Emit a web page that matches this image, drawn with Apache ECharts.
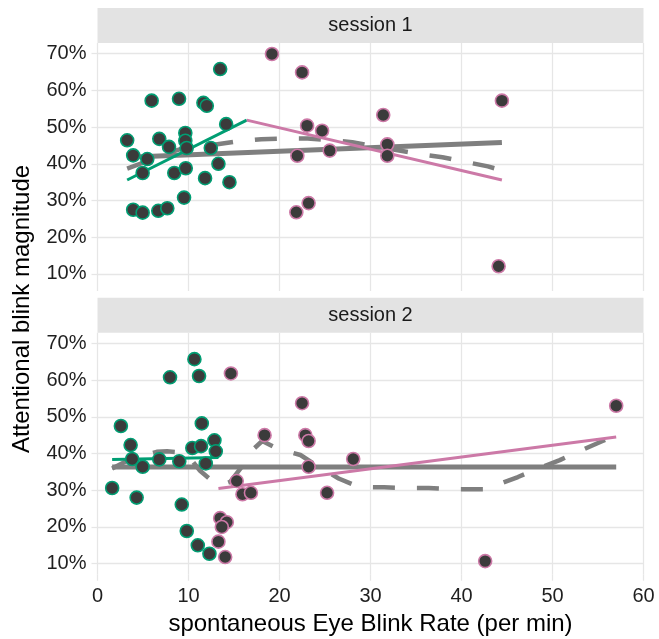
<!DOCTYPE html>
<html>
<head>
<meta charset="utf-8">
<script src="https://cdn.jsdelivr.net/npm/echarts@6/dist/echarts.min.js"></script>
<style>
html,body{margin:0;padding:0;background:#fff;}
#chart{width:659px;height:639px;}
</style>
</head>
<body>
<div id="chart"></div>
<script>
// ---------- data ----------
const xTicks = [0, 10, 20, 30, 40, 50, 60];
const yTicks = [10, 20, 30, 40, 50, 60, 70];
const panelTitles = ['session 1', 'session 2'];
const xTitle = 'spontaneous Eye Blink Rate (per min)';
const yTitle = 'Attentional blink magnitude';

// session 1 – low EBR group (green)
const s1LowX = [3.26, 3.92, 5.47, 6.79, 7.86, 9.65, 9.65, 9.8, 12.45, 14.14, 4.96, 8.44, 9.7, 11.82, 13.29, 14.5, 9.51, 3.92, 4.96, 6.68, 7.67, 5.95, 8.96, 11.64, 12.01, 13.48];
const s1LowY = [46.4, 42.3, 41.3, 46.8, 44.6, 48.4, 46.3, 44.3, 44.3, 50.8, 37.5, 37.5, 38.8, 36.1, 40.0, 35.0, 30.8, 27.5, 26.7, 27.2, 27.9, 57.2, 57.7, 56.6, 55.8, 65.8];
// session 1 – high EBR group (pink)
const s1HighX = [22.48, 23.03, 24.68, 21.96, 25.52, 31.4, 31.85, 31.85, 44.44, 44.08, 21.85, 23.2, 19.17];
const s1HighY = [64.9, 50.4, 49.0, 42.2, 43.6, 53.3, 45.3, 42.2, 57.2, 12.1, 26.8, 29.3, 69.9];
// session 1 fits
const s1LowFitX = [3.26, 16.4];
const s1LowFitY = [35.6, 51.9];
const s1HighFitX = [16.4, 44.44];
const s1HighFitY = [51.9, 35.6];
const s1AllFitX = [3.26, 44.44];
const s1AllFitY = [41.8, 45.8];
const s1LoessX = [3.26, 5.43, 7.97, 10.17, 12.6, 15.35, 18.0, 20.4, 23.1, 25.4, 28.0, 30.3, 33.0, 35.3, 37.9, 40.3, 42.9, 44.44];
const s1LoessY = [38.7, 40.7, 43.1, 44.8, 45.1, 46.1, 46.7, 46.9, 46.9, 46.5, 45.9, 44.8, 43.7, 42.7, 41.8, 40.6, 39.3, 38.2];

// session 2 – low EBR group (green)
const s2LowX = [10.65, 7.97, 11.16, 2.57, 11.46, 3.64, 12.85, 10.42, 11.38, 13.0, 3.81, 4.96, 6.79, 8.99, 11.9, 1.61, 4.3, 9.26, 9.81, 11.02, 12.3];
const s2LowY = [65.7, 60.75, 61.1, 47.5, 48.2, 42.3, 43.6, 41.5, 42.0, 40.6, 38.5, 36.4, 38.4, 37.9, 37.3, 30.6, 28.0, 26.1, 18.9, 15.0, 12.7];
// session 2 – high EBR group (pink)
const s2HighX = [15.3, 15.93, 16.86, 13.48, 14.21, 13.66, 13.29, 14.03, 14.66, 18.36, 22.48, 22.84, 23.2, 23.2, 25.23, 28.1, 42.6, 57.0];
const s2HighY = [32.5, 28.9, 29.3, 22.4, 21.3, 20.0, 16.0, 11.8, 61.8, 45.0, 53.7, 45.0, 43.4, 36.4, 29.3, 38.5, 10.7, 53.0];
// session 2 fits
const s2LowFitX = [1.61, 13.29];
const s2LowFitY = [38.4, 38.9];
const s2HighFitX = [13.29, 57.0];
const s2HighFitY = [30.5, 44.5];
const s2AllFitX = [1.61, 57.0];
const s2AllFitY = [36.3, 36.3];
const s2LoessX = [1.61, 3.75, 6.5, 7.64, 8.7, 10.17, 11.27, 12.6, 13.6, 14.58, 15.87, 17.0, 18.1, 19.7, 22.3, 24.3, 26.5, 28.7, 31.5, 33.9, 36.4, 38.8, 41.4, 42.7, 43.8, 46.2, 48.6, 50.8, 53.2, 55.5, 57.0];
const s2LoessY = [35.9, 38.65, 40.45, 40.6, 40.4, 38.8, 35.3, 32.5, 31.4, 32.3, 36.4, 40.9, 43.4, 41.4, 39.6, 36.4, 33.2, 30.9, 30.8, 30.6, 30.6, 30.3, 30.3, 30.3, 31.4, 33.6, 36.1, 38.2, 40.9, 43.4, 45.0];

// ---------- style ----------
const GREEN = '#009E73', PINK = '#CC79A7', GREY = '#7F7F7F';
const GRID_C = '#E6E6E6';
const X_MIN = 0, X_MAX = 60, Y_MIN = 7.0, Y_MAX = 72.9;
const PANEL_LEFT = 97.5, PANEL_W = 546;
const PANEL_TOPS = [43, 332.7], PANEL_H = 242, STRIP_H = 35;

const zip = (xs, ys) => xs.map((x, i) => [x, ys[i]]);

const grids = PANEL_TOPS.map(t => ({left: PANEL_LEFT, top: t, width: PANEL_W, height: PANEL_H}));

const xAxes = [0, 1].map(i => ({
  type: 'value', gridIndex: i, min: X_MIN, max: X_MAX, interval: 10,
  axisLine: {show: false},
  axisTick: {show: true, length: 6, lineStyle: {color: GRID_C, width: 1.3}},
  axisLabel: {show: i === 1, fontSize: 20, color: '#1F1F1F', margin: 12, fontFamily: 'Liberation Sans'},
  splitLine: {show: true, lineStyle: {color: GRID_C, width: 1.3}}
}));
const yAxes = [0, 1].map(i => ({
  type: 'value', gridIndex: i, min: Y_MIN, max: Y_MAX,
  axisLine: {show: false},
  axisTick: {show: true, length: 6, customValues: yTicks, lineStyle: {color: GRID_C, width: 1.3}},
  axisLabel: {show: true, customValues: yTicks, fontSize: 20, color: '#1F1F1F', margin: 11,
    fontFamily: 'Liberation Sans', formatter: v => v + '%'},
  splitLine: {show: true, lineStyle: {color: GRID_C, width: 1.3}}
}));

function lineSeries(idx, xs, ys, color, width, dash, z) {
  return {type: 'line', xAxisIndex: idx, yAxisIndex: idx, data: zip(xs, ys),
    symbol: 'none', silent: true, z: z,
    lineStyle: {color: color, width: width, type: dash || 'solid', cap: 'butt'}};
}
function pointSeries(idx, xs, ys, border) {
  return {type: 'scatter', xAxisIndex: idx, yAxisIndex: idx, data: zip(xs, ys),
    symbol: 'circle', symbolSize: 13, z: 5,
    itemStyle: {color: '#3B3B3B', borderColor: border, borderWidth: 1.6, opacity: 1}};
}

const series = [
  pointSeries(0, s1LowX, s1LowY, GREEN),
  pointSeries(0, s1HighX, s1HighY, PINK),
  lineSeries(0, s1AllFitX, s1AllFitY, GREY, 5, null, 3),
  lineSeries(0, s1LoessX, s1LoessY, GREY, 4.5, [22, 22], 3),
  lineSeries(0, s1LowFitX, s1LowFitY, GREEN, 3, null, 4),
  lineSeries(0, s1HighFitX, s1HighFitY, PINK, 3, null, 4),
  pointSeries(1, s2LowX, s2LowY, GREEN),
  pointSeries(1, s2HighX, s2HighY, PINK),
  lineSeries(1, s2AllFitX, s2AllFitY, GREY, 5, null, 3),
  lineSeries(1, s2LoessX, s2LoessY, GREY, 4.5, [22, 22], 3),
  lineSeries(1, s2LowFitX, s2LowFitY, GREEN, 3, null, 4),
  lineSeries(1, s2HighFitX, s2HighFitY, PINK, 3, null, 4)
];

const graphics = [];
PANEL_TOPS.forEach((t, i) => {
  graphics.push({type: 'rect', shape: {x: PANEL_LEFT, y: t - STRIP_H, width: PANEL_W, height: STRIP_H},
    style: {fill: '#E3E3E3'}, silent: true});
  graphics.push({type: 'text', x: PANEL_LEFT + PANEL_W / 2, y: t - STRIP_H / 2,
    style: {text: panelTitles[i], fill: '#1A1A1A', fontSize: 20, fontFamily: 'Liberation Sans',
      align: 'center', verticalAlign: 'middle'}, silent: true});
});
graphics.push({type: 'text', x: PANEL_LEFT + PANEL_W / 2, y: 624,
  style: {text: xTitle, fill: '#000', fontSize: 24, fontFamily: 'Liberation Sans',
    align: 'center', verticalAlign: 'middle'}, silent: true});
graphics.push({type: 'text', x: 22, y: 309, rotation: Math.PI / 2,
  style: {text: yTitle, fill: '#000', fontSize: 24, fontFamily: 'Liberation Sans',
    align: 'center', verticalAlign: 'middle'}, silent: true});

const chart = echarts.init(document.getElementById('chart'), null, {renderer: 'canvas'});
chart.setOption({
  animation: false,
  backgroundColor: '#fff',
  grid: grids,
  xAxis: xAxes,
  yAxis: yAxes,
  series: series,
  graphic: graphics
});
</script>
</body>
</html>
